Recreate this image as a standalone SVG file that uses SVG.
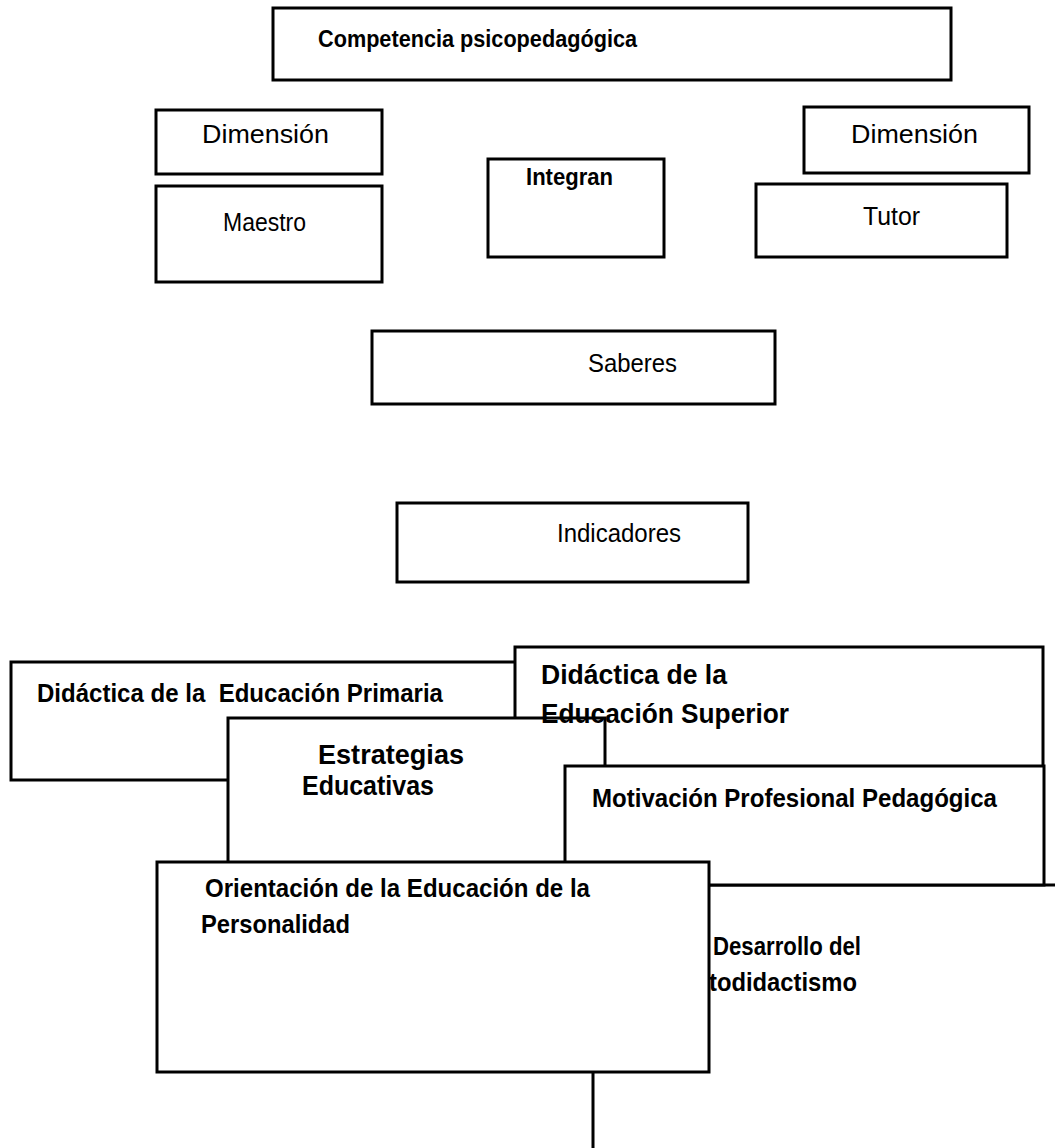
<svg xmlns="http://www.w3.org/2000/svg" width="1055" height="1148" viewBox="0 0 1055 1148">
<style>
.box{fill:#fff;stroke:#000;stroke-width:3}
.t{font-family:"Liberation Sans",Arial,sans-serif;fill:#000}
.r{font-size:26px}
.b{font-size:26px;font-weight:bold}
.bl{font-size:28px;font-weight:bold}
</style>
<rect width="1055" height="1148" fill="#fff"/>
<g id="connectors"/>
<g id="n-competencia"><rect class="box" x="273" y="8" width="678" height="72"/><text class="t" x="318" y="47" font-size="24" font-weight="bold" textLength="319" lengthAdjust="spacingAndGlyphs">Competencia psicopedagógica</text></g>
<g id="n-dimension-1"><rect class="box" x="156" y="110" width="226" height="64"/><text class="t r" x="202" y="143" textLength="127" lengthAdjust="spacingAndGlyphs">Dimensión</text></g>
<g id="n-maestro"><rect class="box" x="156" y="186" width="226" height="96"/><text class="t r" x="223" y="231" textLength="83" lengthAdjust="spacingAndGlyphs">Maestro</text></g>
<g id="n-integran"><rect class="box" x="488" y="159" width="176" height="98"/><text class="t" x="526" y="185" font-size="24" font-weight="bold" textLength="87" lengthAdjust="spacingAndGlyphs">Integran</text></g>
<g id="n-dimension-2"><rect class="box" x="804" y="107" width="225" height="66"/><text class="t r" x="851" y="143" textLength="127" lengthAdjust="spacingAndGlyphs">Dimensión</text></g>
<g id="n-tutor"><rect class="box" x="756" y="184" width="251" height="73"/><text class="t r" x="863" y="225" textLength="57" lengthAdjust="spacingAndGlyphs">Tutor</text></g>
<g id="n-saberes"><rect class="box" x="372" y="331" width="403" height="73"/><text class="t r" x="588" y="372" textLength="89" lengthAdjust="spacingAndGlyphs">Saberes</text></g>
<g id="n-indicadores"><rect class="box" x="397" y="503" width="351" height="79"/><text class="t r" x="557" y="542" textLength="124" lengthAdjust="spacingAndGlyphs">Indicadores</text></g>
<g id="n-primaria"><rect class="box" x="11" y="662" width="550" height="118"/><text class="t b" x="37" y="702" xml:space="preserve" textLength="406" lengthAdjust="spacingAndGlyphs">Didáctica de la  Educación Primaria</text></g>
<g id="n-superior"><rect class="box" x="515" y="647" width="528" height="150"/></g>
<g id="n-estrategias"><rect class="box" x="228" y="718" width="377" height="180"/><text class="t bl" x="318" y="764" textLength="146" lengthAdjust="spacingAndGlyphs">Estrategias</text><text class="t bl" x="302" y="795" textLength="132" lengthAdjust="spacingAndGlyphs">Educativas</text></g>
<g id="n-superior-label"><text class="t bl" x="541" y="684" textLength="186" lengthAdjust="spacingAndGlyphs">Didáctica de la</text><text class="t bl" x="541" y="723" textLength="248" lengthAdjust="spacingAndGlyphs">Educación Superior</text></g>
<g id="n-desarrollo"><rect class="box" x="593" y="885" width="520" height="300"/><text class="t b" x="713" y="955" textLength="148" lengthAdjust="spacingAndGlyphs">Desarrollo del</text><text class="t b" x="709" y="991" textLength="148" lengthAdjust="spacingAndGlyphs">todidactismo</text></g>
<g id="n-motivacion"><rect class="box" x="565" y="766" width="479" height="119"/><text class="t b" x="592" y="807" textLength="405" lengthAdjust="spacingAndGlyphs">Motivación Profesional Pedagógica</text></g>
<g id="n-orientacion"><rect class="box" x="157" y="862" width="552" height="210"/><text class="t b" x="205" y="897" textLength="385" lengthAdjust="spacingAndGlyphs">Orientación de la Educación de la</text><text class="t b" x="201" y="933" textLength="149" lengthAdjust="spacingAndGlyphs">Personalidad</text></g>
</svg>
